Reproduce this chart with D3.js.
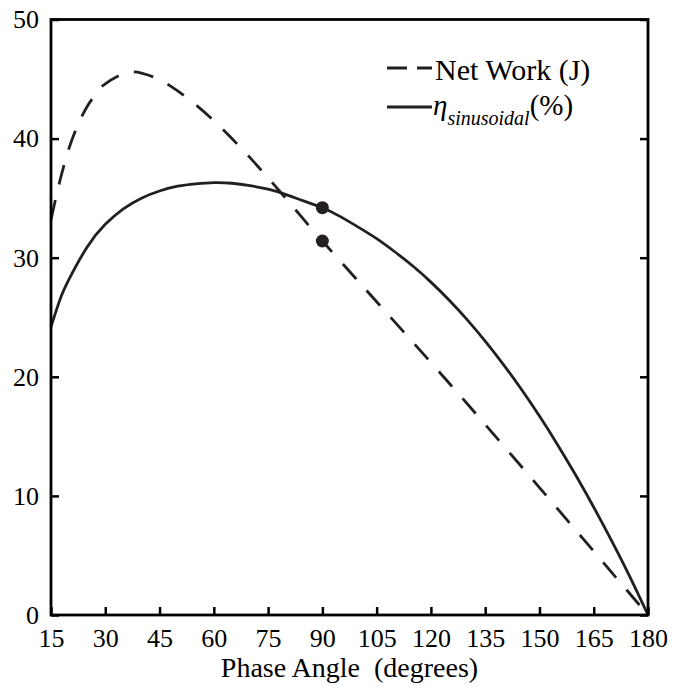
<!DOCTYPE html>
<html>
<head>
<meta charset="utf-8">
<script src="https://cdn.jsdelivr.net/npm/d3@7"></script>
</head>
<body style="margin:0;background:#fff">
<svg id="fig" width="673" height="693"></svg>
<script>
// Net work (J) against phase angle (degrees)
const workAngle = [15, 17.5, 20, 22.5, 25, 27.5, 30, 35, 37.5, 40, 45, 50, 55, 60, 65, 70, 75, 80, 85, 90,
                   95, 100, 105, 120, 135, 150, 165, 180];
const netWork   = [33.2, 36.5, 39.2, 41.2, 42.7, 43.8, 44.6, 45.45, 45.6, 45.5, 44.95, 44.0, 42.85, 41.5, 40.0, 38.4, 36.7, 34.95, 33.15, 31.4,
                   29.7, 28.0, 26.3, 21.2, 16.0, 10.7, 5.35, 0];

// Sinusoidal efficiency (%) against phase angle (degrees)
const etaAngle   = [15, 17.5, 20, 25, 30, 35, 40, 45, 50, 55, 60, 65, 70, 75, 80, 85, 90,
                    95, 100, 105, 110, 115, 120, 125, 130, 135, 140, 145, 150, 155, 160, 165, 170, 175, 180];
const efficiency = [24.2, 26.5, 28.2, 30.9, 32.8, 34.1, 35.0, 35.6, 36.0, 36.2, 36.3, 36.25, 36.05, 35.75, 35.3, 34.75, 34.2,
                    33.45, 32.55, 31.6, 30.5, 29.3, 27.95, 26.45, 24.8, 23.0, 21.05, 18.95, 16.7, 14.3, 11.75, 9.05, 6.2, 3.2, 0];

// Highlighted operating point at 90 degrees
const markerAngle  = 90;
const markerValues = [34.2, 31.4];

const xTicks = [15, 30, 45, 60, 75, 90, 105, 120, 135, 150, 165, 180];
const yTicks = [0, 10, 20, 30, 40, 50];

const ink = "#231f20";
const face = '"Liberation Serif"';
const svg = d3.select("#fig");
const plotLeft = 51, plotRight = 648, plotTop = 19.5, plotBottom = 615;

const x = d3.scaleLinear().domain([15, 180]).range([plotLeft, plotRight]);
const y = d3.scaleLinear().domain([0, 50]).range([plotBottom, plotTop]);

// Curves
const line = d3.line().curve(d3.curveNatural);

svg.append("path")
  .attr("d", line(workAngle.map((a, i) => [x(a), y(netWork[i])])))
  .attr("fill", "none").attr("stroke", ink).attr("stroke-width", 2.8)
  .attr("stroke-dasharray", "20,16");

svg.append("path")
  .attr("d", line(etaAngle.map((a, i) => [x(a), y(efficiency[i])])))
  .attr("fill", "none").attr("stroke", ink).attr("stroke-width", 2.8);

svg.selectAll("circle.marker").data(markerValues).join("circle")
  .attr("class", "marker")
  .attr("cx", x(markerAngle)).attr("cy", d => y(d)).attr("r", 6.5)
  .attr("fill", ink);

// Axes with inward ticks
const tickLen = 8;
const xAxis = svg.append("g").attr("transform", `translate(0,${plotBottom})`)
  .call(d3.axisBottom(x).tickValues(xTicks).tickSize(-tickLen).tickPadding(14));
const yAxis = svg.append("g").attr("transform", `translate(${plotLeft},0)`)
  .call(d3.axisLeft(y).tickValues(yTicks).tickSize(-tickLen).tickPadding(12));
const yAxisR = svg.append("g").attr("transform", `translate(${plotRight},0)`)
  .call(d3.axisRight(y).tickValues(yTicks).tickSize(-tickLen).tickFormat(""));

[xAxis, yAxis, yAxisR].forEach(g => {
  g.attr("font-family", null).attr("font-size", null);
  g.select(".domain").remove();
  g.selectAll(".tick line").attr("stroke", "#000").attr("stroke-width", 2.5);
  g.selectAll(".tick text").style("font-family", face).style("font-size", "26px").attr("fill", "#000");
});
xAxis.selectAll(".tick text").attr("dy", "0.71em");

// Frame
svg.append("rect")
  .attr("x", plotLeft).attr("y", plotTop).attr("width", plotRight - plotLeft).attr("height", plotBottom - plotTop)
  .attr("fill", "none").attr("stroke", "#000").attr("stroke-width", 2.8);

// Axis title
svg.append("text")
  .attr("x", (plotLeft + plotRight) / 2).attr("y", 677)
  .attr("text-anchor", "middle").style("font-family", face).style("font-size", "28px")
  .style("white-space", "pre")
  .text("Phase Angle  (degrees)");

// Legend
const lg = svg.append("g");
lg.append("line").attr("x1", 387).attr("x2", 432).attr("y1", 68).attr("y2", 68)
  .attr("stroke", ink).attr("stroke-width", 2.8).attr("stroke-dasharray", "20,10,15");
lg.append("text").attr("x", 435).attr("y", 80).style("font-family", face).style("font-size", "30px").text("Net Work (J)");

lg.append("line").attr("x1", 387).attr("x2", 432).attr("y1", 107).attr("y2", 107)
  .attr("stroke", ink).attr("stroke-width", 2.8);
const eta = lg.append("text").attr("x", 433).attr("y", 115).style("font-family", face).style("font-size", "29px");
eta.append("tspan").style("font-style", "italic").text("η");
eta.append("tspan").style("font-style", "italic").style("font-size", "20px").attr("dy", 10).text("sinusoidal");
eta.append("tspan").attr("dy", -10).text("(%)");
</script>
</body>
</html>
